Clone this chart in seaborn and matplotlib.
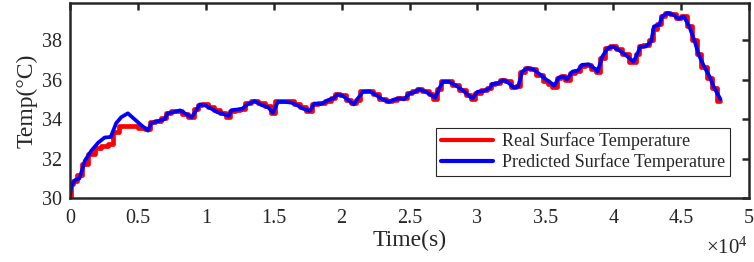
import numpy as np
import pandas as pd
import matplotlib
matplotlib.use("Agg")
import matplotlib.pyplot as plt
import seaborn as sns

# time in units of 1e4 s
time_x = [0.0, 0.01, 0.035, 0.07, 0.11, 0.157, 0.206, 0.255, 0.30, 0.34, 0.377, 0.426, 0.475, 0.524,
          0.574, 0.598, 0.647, 0.696, 0.72, 0.77, 0.81, 0.846, 0.895, 0.93, 0.956, 0.99, 1.04, 1.08,
          1.13, 1.17, 1.19, 1.24, 1.27, 1.31, 1.36, 1.41, 1.46, 1.495, 1.53, 1.58, 1.63, 1.67, 1.715,
          1.765, 1.80, 1.85, 1.90, 1.94, 1.97, 2.01, 2.05, 2.09, 2.12, 2.157, 2.206, 2.255, 2.30, 2.35,
          2.39, 2.43, 2.46, 2.50, 2.54, 2.57, 2.62, 2.66, 2.69, 2.72, 2.745, 2.79, 2.84, 2.89, 2.94,
          2.965, 3.0, 3.05, 3.09, 3.11, 3.15, 3.19, 3.22, 3.27, 3.30, 3.33, 3.37, 3.41, 3.46, 3.505,
          3.54, 3.566, 3.60, 3.635, 3.66, 3.70, 3.74, 3.77, 3.82, 3.86, 3.885, 3.92, 3.96, 4.0, 4.04,
          4.09, 4.15, 4.18, 4.20, 4.24, 4.28, 4.30, 4.34, 4.36, 4.40, 4.44, 4.485, 4.52, 4.56, 4.60,
          4.63, 4.67, 4.71, 4.74, 4.79]

predicted = [30.15, 30.6, 30.9, 31.0, 31.9, 32.4, 32.8, 33.07, 33.1, 33.8, 34.1, 34.3, 34.0, 33.7,
             33.42, 33.8, 33.9, 34.0, 34.3, 34.37, 34.45, 34.3, 34.1, 34.46, 34.75, 34.72, 34.54, 34.37,
             34.26, 34.17, 34.46, 34.5, 34.54, 34.77, 34.92, 34.72, 34.6, 34.32, 34.88, 34.88, 34.84, 34.72, 34.54,
             34.42, 34.8, 34.77, 34.97, 35.06, 35.26, 35.18, 34.97, 34.75, 35.06, 35.39, 35.42, 35.22, 35.01, 34.88,
             35.01, 35.06, 35.01, 35.31, 35.39, 35.52, 35.39, 35.22, 35.09, 35.57, 35.9, 35.9, 35.72, 35.48, 35.18,
             35.06, 35.39, 35.44, 35.57, 35.79, 35.82, 35.99, 35.9, 35.6, 35.65, 36.42, 36.59, 36.54, 36.28, 36.02,
             35.85, 35.7, 36.12, 36.16, 36.02, 36.42, 36.47, 36.76, 36.79, 36.59, 36.42, 37.18, 37.61, 37.69, 37.52,
             37.27, 36.92, 37.35, 37.69, 37.69, 37.95, 38.71, 38.8, 39.22, 39.39, 39.31, 39.1, 39.22, 38.71, 37.95,
             37.27, 36.67, 36.16, 35.65, 35.01]

real = [30.1, 30.7, 30.85, 31.15, 31.75, 32.25, 32.55, 32.65, 32.75, 33.35, 33.65, 33.65, 33.65, 33.55,
        33.5, 33.85, 33.9, 34.05, 34.3, 34.4, 34.4, 34.25, 34.1, 34.5, 34.7, 34.75, 34.6, 34.45,
        34.3, 34.1, 34.4, 34.45, 34.5, 34.8, 34.95, 34.8, 34.65, 34.3, 34.9, 34.9, 34.9, 34.75, 34.6,
        34.4, 34.75, 34.8, 34.9, 35.1, 35.3, 35.25, 35.0, 34.8, 35.0, 35.45, 35.45, 35.3, 35.05, 34.9,
        35.0, 35.1, 35.1, 35.35, 35.45, 35.55, 35.45, 35.3, 35.05, 35.55, 35.95, 35.95, 35.75, 35.5, 35.25,
        35.05, 35.35, 35.5, 35.6, 35.8, 35.85, 36.0, 35.95, 35.65, 35.7, 36.4, 36.6, 36.55, 36.25, 35.95,
        35.8, 35.65, 36.1, 36.2, 36.0, 36.35, 36.45, 36.7, 36.75, 36.55, 36.4, 37.1, 37.6, 37.7, 37.55,
        37.3, 36.9, 37.3, 37.7, 37.75, 38.0, 38.6, 38.85, 39.25, 39.4, 39.35, 39.15, 39.25, 38.75, 38.0,
        37.3, 36.65, 36.1, 35.6, 34.9]

legend_labels = ["Real Surface Temperature", "Predicted Surface Temperature"]
x_ticks = [0, 0.5, 1, 1.5, 2, 2.5, 3, 3.5, 4, 4.5, 5]
x_tick_labels = ["0", "0.5", "1", "1.5", "2", "2.5", "3", "3.5", "4", "4.5", "5"]
y_ticks = [30, 32, 34, 36, 38]

sns.set_theme(style="white")
plt.rcParams["font.family"] = ["Liberation Serif", "DejaVu Serif"]
plt.rcParams["mathtext.fontset"] = "custom"
plt.rcParams["mathtext.rm"] = "Liberation Serif"
plt.rcParams["mathtext.it"] = "Liberation Serif:italic"

df = pd.DataFrame({"time": time_x, "real": real, "pred": predicted})

fig = plt.figure(figsize=(7.54, 2.62), dpi=100)
ax = fig.add_axes([70 / 754, 1 - 198 / 262, (749 - 70) / 754, (198 - 3) / 262])

sns.lineplot(data=df, x="time", y="real", ax=ax, color="#ff0000", lw=3.4,
             drawstyle="steps-mid", sort=False, estimator=None, label=legend_labels[0])
sns.lineplot(data=df, x="time", y="pred", ax=ax, color="#0000ff", lw=2.7,
             sort=False, estimator=None, label=legend_labels[1])

ax.set_xlim(0, 5)
ax.set_ylim(30, 39.9)
ax.set_xticks(x_ticks)
ax.set_xticklabels(x_tick_labels)
ax.set_yticks(y_ticks)
ax.tick_params(direction="in", length=5, width=1.8, top=True, right=True,
               labelsize=14.5, colors="#262626", pad=6)
ax.tick_params(axis="x", pad=8)
for s in ax.spines.values():
    s.set_visible(True)
    s.set_linewidth(1.8)
    s.set_color("#262626")

ax.set_xlabel("Time(s)", fontsize=17, color="#262626", labelpad=1)
ax.set_ylabel("Temp(\u00b0C)", fontsize=17, color="#262626", labelpad=3)

leg = ax.legend(loc="lower right", bbox_to_anchor=(0.972, 0.115), fontsize=13,
                frameon=True, fancybox=False, edgecolor="#262626", framealpha=1,
                handlelength=2.9, borderpad=0.25, labelspacing=0.15, handletextpad=0.5,
                borderaxespad=0)
leg.get_frame().set_linewidth(0.8)
for line in leg.get_lines():
    line.set_linewidth(3)

fig.text(748 / 754, 3 / 262, r"$\times 10^{4}$", ha="right", va="bottom", fontsize=15, color="#262626")

fig.savefig("out.png", dpi=100)
